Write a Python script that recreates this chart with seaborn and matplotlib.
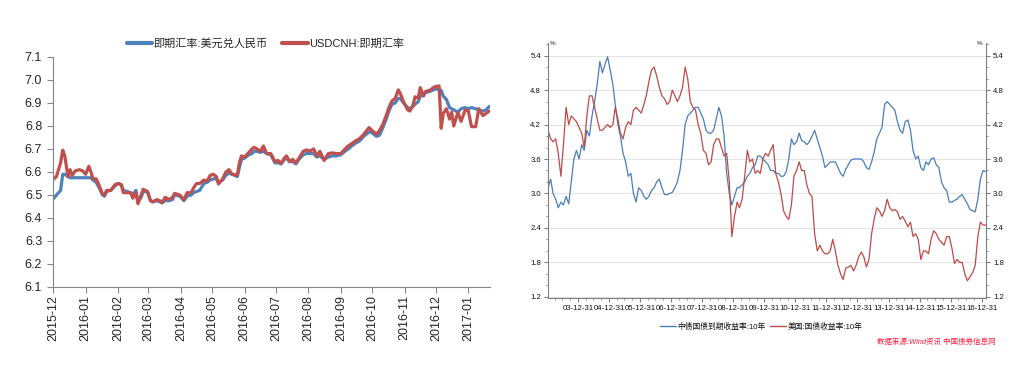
import numpy as np
import pandas as pd
import seaborn as sns
import matplotlib.pyplot as plt
import matplotlib.dates as mdates
from matplotlib.ticker import MultipleLocator, FormatStrFormatter

# ---- left panel: USD/CNY spot vs USDCNH ----
fx_dates = [
    "2015-12-01", "2015-12-04", "2015-12-08", "2015-12-10", "2015-12-12", "2015-12-15",
    "2015-12-17", "2015-12-19", "2015-12-22", "2015-12-26", "2015-12-29", "2016-01-01",
    "2016-01-04", "2016-01-06", "2016-01-08", "2016-01-11", "2016-01-14", "2016-01-17",
    "2016-01-19", "2016-01-21", "2016-01-25", "2016-01-29", "2016-02-01", "2016-02-04",
    "2016-02-06", "2016-02-10", "2016-02-13", "2016-02-15", "2016-02-18", "2016-02-20",
    "2016-02-23", "2016-02-25", "2016-02-29", "2016-03-03", "2016-03-05", "2016-03-09",
    "2016-03-12", "2016-03-14", "2016-03-17", "2016-03-21", "2016-03-24", "2016-03-26",
    "2016-03-31", "2016-04-04", "2016-04-07", "2016-04-11", "2016-04-13", "2016-04-16",
    "2016-04-19", "2016-04-23", "2016-04-26", "2016-04-29", "2016-05-02", "2016-05-05",
    "2016-05-07", "2016-05-11", "2016-05-14", "2016-05-17", "2016-05-20", "2016-05-25",
    "2016-05-27", "2016-05-29", "2016-06-01", "2016-06-05", "2016-06-08", "2016-06-10",
    "2016-06-13", "2016-06-16", "2016-06-19", "2016-06-22", "2016-06-26", "2016-06-30",
    "2016-07-03", "2016-07-06", "2016-07-09", "2016-07-11", "2016-07-14", "2016-07-17",
    "2016-07-20", "2016-07-23", "2016-07-27", "2016-07-30", "2016-08-02", "2016-08-06",
    "2016-08-09", "2016-08-12", "2016-08-16", "2016-08-20", "2016-08-24", "2016-08-28",
    "2016-09-01", "2016-09-05", "2016-09-08", "2016-09-12", "2016-09-15", "2016-09-19",
    "2016-09-23", "2016-09-28", "2016-10-01", "2016-10-05", "2016-10-08", "2016-10-11",
    "2016-10-14", "2016-10-17", "2016-10-20", "2016-10-23", "2016-10-26", "2016-10-28",
    "2016-10-31", "2016-11-04", "2016-11-06", "2016-11-09", "2016-11-11", "2016-11-14",
    "2016-11-16", "2016-11-19", "2016-11-21", "2016-11-25", "2016-11-30", "2016-12-04",
    "2016-12-06", "2016-12-08", "2016-12-11", "2016-12-14", "2016-12-16", "2016-12-18",
    "2016-12-22", "2016-12-25", "2016-12-29", "2017-01-01", "2017-01-04", "2017-01-08",
    "2017-01-11", "2017-01-15", "2017-01-18", "2017-01-21",
]
cny_spot = [
    6.483, 6.500, 6.520, 6.590, 6.590, 6.580, 6.575, 6.575, 6.575, 6.575, 6.575, 6.575,
    6.575, 6.575, 6.565, 6.555, 6.530, 6.500, 6.495, 6.515, 6.520, 6.540, 6.550, 6.545,
    6.520, 6.515, 6.510, 6.500, 6.520, 6.470, 6.490, 6.515, 6.515, 6.475, 6.470, 6.475,
    6.470, 6.466, 6.475, 6.475, 6.480, 6.500, 6.495, 6.475, 6.495, 6.500, 6.510, 6.515,
    6.520, 6.550, 6.555, 6.565, 6.570, 6.570, 6.555, 6.565, 6.585, 6.595, 6.590, 6.580,
    6.620, 6.655, 6.660, 6.675, 6.680, 6.690, 6.690, 6.685, 6.690, 6.680, 6.675, 6.640,
    6.640, 6.635, 6.655, 6.660, 6.645, 6.645, 6.635, 6.655, 6.675, 6.680, 6.680, 6.680,
    6.665, 6.670, 6.655, 6.665, 6.670, 6.670, 6.675, 6.690, 6.700, 6.715, 6.725, 6.735,
    6.755, 6.775, 6.770, 6.755, 6.760, 6.790, 6.825, 6.865, 6.895, 6.900, 6.920, 6.920,
    6.900, 6.880, 6.875, 6.885, 6.895, 6.905, 6.930, 6.935, 6.945, 6.950, 6.960, 6.960,
    6.955, 6.930, 6.915, 6.880, 6.875, 6.870, 6.860, 6.875, 6.880, 6.875, 6.880, 6.875,
    6.870, 6.865, 6.870, 6.885,
]
usdcnh = [
    6.568, 6.580, 6.640, 6.695, 6.670, 6.580, 6.610, 6.585, 6.605, 6.610, 6.605, 6.590,
    6.625, 6.600, 6.570, 6.570, 6.540, 6.505, 6.500, 6.520, 6.520, 6.545, 6.550, 6.545,
    6.510, 6.510, 6.510, 6.486, 6.510, 6.462, 6.500, 6.525, 6.515, 6.475, 6.470, 6.480,
    6.475, 6.466, 6.490, 6.480, 6.490, 6.507, 6.500, 6.480, 6.510, 6.510, 6.530, 6.550,
    6.550, 6.565, 6.560, 6.585, 6.590, 6.580, 6.548, 6.570, 6.600, 6.610, 6.590, 6.587,
    6.640, 6.670, 6.665, 6.685, 6.700, 6.707, 6.700, 6.690, 6.713, 6.680, 6.680, 6.645,
    6.650, 6.638, 6.660, 6.670, 6.645, 6.655, 6.640, 6.660, 6.690, 6.696, 6.690, 6.700,
    6.670, 6.690, 6.650, 6.680, 6.683, 6.680, 6.680, 6.700, 6.713, 6.725, 6.735, 6.745,
    6.764, 6.793, 6.780, 6.764, 6.780, 6.805, 6.840, 6.880, 6.909, 6.920, 6.957, 6.940,
    6.905, 6.870, 6.865, 6.890, 6.927, 6.920, 6.967, 6.930, 6.950, 6.955, 6.971, 6.974,
    6.790, 6.855, 6.875, 6.830, 6.860, 6.800, 6.860, 6.820, 6.870, 6.865, 6.797, 6.797,
    6.875, 6.845, 6.855, 6.865,
]
fx_names = ["即期汇率:美元兑人民币", "USDCNH:即期汇率"]

# ---- right panel: 10y government bond yields, monthly (2003-01 .. 2017-02) ----
bond_months = pd.date_range("2003-01-01", "2017-02-01", freq="MS") + pd.Timedelta(days=14)
china_10y = [
    3.10, 3.25, 3.00, 2.90, 2.75, 2.85, 2.80, 2.95, 2.82, 3.20, 3.60, 3.75,  # 2003
    3.60, 3.85, 3.75, 4.10, 4.00, 4.35, 4.60, 4.90, 5.30, 5.10, 5.25, 5.38,  # 2004
    5.15, 4.90, 4.55, 4.20, 4.00, 3.70, 3.55, 3.30, 3.35, 3.00, 2.85, 3.10,  # 2005
    3.05, 2.95, 2.90, 2.95, 3.05, 3.10, 3.20, 3.25, 3.10, 2.98, 2.98, 3.00,  # 2006
    3.02, 3.10, 3.20, 3.40, 3.75, 4.20, 4.35, 4.40, 4.45, 4.50, 4.50, 4.40,  # 2007
    4.30, 4.10, 4.05, 4.05, 4.10, 4.30, 4.50, 4.35, 4.00, 3.35, 3.00, 2.80,  # 2008
    2.95, 3.10, 3.10, 3.15, 3.20, 3.30, 3.35, 3.45, 3.50, 3.65, 3.65, 3.60,  # 2009
    3.55, 3.50, 3.40, 3.40, 3.35, 3.35, 3.30, 3.30, 3.38, 3.60, 3.95, 3.85,  # 2010
    3.90, 4.05, 3.92, 3.90, 3.85, 3.90, 4.00, 4.10, 3.95, 3.80, 3.65, 3.45,  # 2011
    3.50, 3.55, 3.55, 3.55, 3.45, 3.35, 3.30, 3.42, 3.50, 3.58, 3.60, 3.60,  # 2012
    3.60, 3.60, 3.55, 3.45, 3.42, 3.55, 3.72, 3.95, 4.05, 4.15, 4.55, 4.60,  # 2013
    4.55, 4.50, 4.45, 4.25, 4.10, 4.05, 4.25, 4.28, 4.10, 3.75, 3.60, 3.65,  # 2014
    3.45, 3.40, 3.55, 3.50, 3.60, 3.62, 3.50, 3.45, 3.20, 3.10, 3.05, 2.85,  # 2015
    2.85, 2.88, 2.90, 2.95, 2.98, 2.90, 2.82, 2.72, 2.70, 2.68, 2.90, 3.25,  # 2016
    3.40, 3.38,                                                              # 2017
]
us_10y = [
    4.10, 3.95, 3.90, 3.95, 3.70, 3.30, 3.85, 4.50, 4.20, 4.35, 4.30, 4.25,  # 2003
    4.15, 4.05, 3.80, 4.35, 4.70, 4.70, 4.50, 4.30, 4.10, 4.10, 4.15, 4.20,  # 2004
    4.15, 4.20, 4.50, 4.30, 4.05, 3.95, 4.15, 4.25, 4.20, 4.45, 4.50, 4.45,  # 2005
    4.40, 4.55, 4.70, 4.95, 5.15, 5.20, 5.05, 4.85, 4.70, 4.65, 4.55, 4.60,  # 2006
    4.80, 4.70, 4.60, 4.70, 4.85, 5.20, 5.00, 4.60, 4.50, 4.45, 4.20, 4.05,  # 2007
    3.75, 3.70, 3.50, 3.55, 3.85, 3.95, 3.95, 3.80, 3.65, 3.70, 3.20, 2.25,  # 2008
    2.60, 2.85, 2.75, 2.90, 3.30, 3.75, 3.55, 3.60, 3.35, 3.40, 3.35, 3.60,  # 2009
    3.70, 3.65, 3.75, 3.85, 3.35, 3.20, 3.00, 2.70, 2.60, 2.55, 2.80, 3.30,  # 2010
    3.40, 3.55, 3.40, 3.40, 3.15, 3.00, 2.95, 2.30, 2.00, 2.10, 2.00, 1.95,  # 2011
    1.95, 2.00, 2.20, 2.00, 1.75, 1.60, 1.50, 1.70, 1.72, 1.75, 1.65, 1.75,  # 2012
    1.90, 1.98, 1.90, 1.72, 1.85, 2.30, 2.55, 2.75, 2.70, 2.60, 2.70, 2.90,  # 2013
    2.75, 2.70, 2.72, 2.68, 2.55, 2.60, 2.52, 2.42, 2.50, 2.25, 2.30, 2.20,  # 2014
    1.85, 2.00, 2.00, 1.95, 2.20, 2.35, 2.30, 2.20, 2.15, 2.10, 2.25, 2.25,  # 2015
    2.05, 1.78, 1.85, 1.80, 1.80, 1.60, 1.48, 1.55, 1.62, 1.75, 2.25, 2.50,  # 2016
    2.45, 2.45,                                                              # 2017
]
bond_names = ["中债国债到期收益率:10年", "美国:国债收益率:10年"]

sns.set_style("ticks")
plt.rcParams['font.family'] = ['Liberation Sans', 'Noto Sans CJK SC']
plt.rcParams['axes.unicode_minus'] = False

fig = plt.figure(figsize=(10.29, 3.86), dpi=100)
ax1 = fig.add_axes([0.0518, 0.2565, 0.4247, 0.5959])
ax2 = fig.add_axes([0.5326, 0.228, 0.4257, 0.6606])

# left chart
fx = pd.DataFrame({"date": pd.to_datetime(fx_dates), fx_names[0]: cny_spot, fx_names[1]: usdcnh})
fx = fx.melt("date", var_name="series", value_name="rate")
sns.lineplot(data=fx, x="date", y="rate", hue="series", hue_order=fx_names,
             palette=["#4F81BD", "#C0504D"], linewidth=2.3, ax=ax1)

ax1.set_xlim(pd.Timestamp("2015-12-01"), pd.Timestamp("2017-01-22"))
ax1.set_ylim(6.1, 7.1)
ax1.yaxis.set_major_locator(MultipleLocator(0.1))
ax1.yaxis.set_major_formatter(FormatStrFormatter("%.1f"))
ax1.xaxis.set_major_locator(mdates.MonthLocator())
ax1.xaxis.set_major_formatter(mdates.DateFormatter("%Y-%m"))
ax1.tick_params(axis="x", labelrotation=90, labelsize=9, length=4, pad=2, color="#868686")
ax1.tick_params(axis="y", labelsize=9, length=4, pad=4, color="#868686")
ax1.set_xlabel("")
ax1.set_ylabel("")
for s in ["top", "right"]:
    ax1.spines[s].set_visible(False)
for s in ["left", "bottom"]:
    ax1.spines[s].set_color("#868686")

leg1 = ax1.legend(loc="center", bbox_to_anchor=(0.485, 1.057), ncol=2, frameon=False,
                  fontsize=8, handlelength=2.3, handletextpad=0.1, columnspacing=1.3)
for h in leg1.get_lines():
    h.set_linewidth(3)

# right chart
bond = pd.DataFrame({"date": bond_months, bond_names[0]: china_10y, bond_names[1]: us_10y})
bond = bond.melt("date", var_name="series", value_name="yield")
sns.lineplot(data=bond, x="date", y="yield", hue="series", hue_order=bond_names,
             palette=["#4A7EBB", "#BE4B48"], linewidth=0.9, ax=ax2)

ax2.set_xlim(pd.Timestamp("2003-01-15"), pd.Timestamp("2017-02-20"))
ax2.set_ylim(1.18, 5.62)
ax2.set_yticks(np.arange(1.2, 5.41, 0.6))
ax2.yaxis.set_minor_locator(MultipleLocator(0.2))
ax2.yaxis.set_major_formatter(FormatStrFormatter("%.1f"))
ax2.grid(axis="y", which="major", color="#E4E4E4", linewidth=0.8)
ax2.xaxis.set_major_locator(mdates.YearLocator(base=1, month=12, day=31))
ax2.xaxis.set_minor_locator(mdates.MonthLocator(bymonth=[4, 7, 10]))
ax2.xaxis.set_major_formatter(mdates.DateFormatter("%y-%m-%d"))
ax2.tick_params(axis="both", which="major", labelsize=5.6, length=3, color="#7F7F7F",
                labelcolor="#111111", pad=2)
ax2.tick_params(axis="both", which="minor", length=1.5, color="#7F7F7F")
ax2.tick_params(axis="y", which="both", left=True, right=True, labelleft=True, labelright=True)
ax2.set_xlabel("")
ax2.set_ylabel("")
ax2.spines["top"].set_visible(False)
for s in ["left", "right", "bottom"]:
    ax2.spines[s].set_color("#7F7F7F")
ax2.text(0.004, 1.0, "%", transform=ax2.transAxes, fontsize=4.5, ha="left", va="center")
ax2.text(0.992, 1.0, "%", transform=ax2.transAxes, fontsize=4.5, ha="right", va="center")

leg2 = ax2.legend(loc="center", bbox_to_anchor=(0.7398, 0.1536), bbox_transform=fig.transFigure,
                  ncol=2, frameon=False, fontsize=5.6, handlelength=2.0, handletextpad=0.2,
                  columnspacing=0.6)
for h in leg2.get_lines():
    h.set_linewidth(1.0)
for t in leg2.get_texts():
    t.set_color("#111111")

fig.text(0.968, 0.114, "数据来源:Wind资讯 中国债券信息网", color="#FF1A3C", fontsize=5.4,
         style="italic", ha="right", va="center")

fig.savefig("out.png", dpi=100, facecolor="white")
